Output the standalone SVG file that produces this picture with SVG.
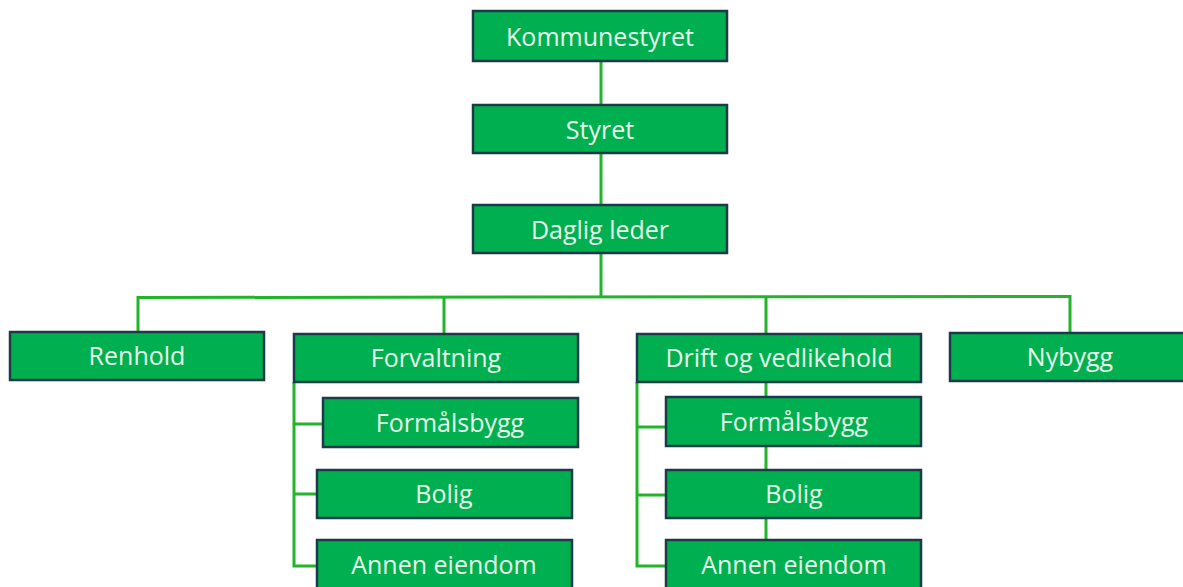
<svg xmlns="http://www.w3.org/2000/svg" width="1183" height="587" viewBox="0 0 1183 587">
<style>
.box{fill:#00B050;stroke:#1C3B46;stroke-width:2.5}
.lbl{font-family:"Open Sans","Liberation Sans",sans-serif;font-size:25px;font-weight:500;fill:#E8F8EA;text-anchor:middle;dominant-baseline:central}
.ln{fill:none;stroke:#22B52A;stroke-width:3}
</style>
<rect width="1183" height="587" fill="#ffffff"/>
<g id="connectors">
<line class="ln" x1="601" y1="62" x2="601" y2="104"/>
<line class="ln" x1="601" y1="154" x2="601" y2="204"/>
<polyline class="ln" points="601,254 601,297"/>
<polyline class="ln" points="138,331 138,297.5 1070,296.5 1070,332"/>
<line class="ln" x1="444" y1="297" x2="444" y2="333"/>
<line class="ln" x1="766" y1="297" x2="766" y2="333"/>
<polyline class="ln" points="294,382 294,566 318,566"/>
<line class="ln" x1="294" y1="424" x2="323" y2="424"/>
<line class="ln" x1="294" y1="494" x2="318" y2="494"/>
<polyline class="ln" points="637,382 637,566 667,566"/>
<line class="ln" x1="637" y1="427" x2="666" y2="427"/>
<line class="ln" x1="637" y1="495" x2="666" y2="495"/>
<line class="ln" x1="766" y1="382" x2="766" y2="397"/>
<line class="ln" x1="766" y1="446" x2="766" y2="470"/>
<line class="ln" x1="766" y1="518" x2="766" y2="540"/>
</g>
<g id="kommunestyret"><rect class="box" x="473" y="11" width="254" height="50"/><text class="lbl" x="600" y="36">Kommunestyret</text></g>
<g id="styret"><rect class="box" x="473" y="105" width="254" height="48"/><text class="lbl" x="600" y="129">Styret</text></g>
<g id="daglig-leder"><rect class="box" x="473" y="205" width="254" height="48"/><text class="lbl" x="600" y="229">Daglig leder</text></g>
<g id="renhold"><rect class="box" x="10" y="332" width="254" height="48"/><text class="lbl" x="137" y="355">Renhold</text></g>
<g id="forvaltning"><rect class="box" x="294" y="334" width="284" height="48"/><text class="lbl" x="436" y="357">Forvaltning</text></g>
<g id="forv-formalsbygg"><rect class="box" x="323" y="398" width="255" height="49"/><text class="lbl" x="450" y="422">Formålsbygg</text></g>
<g id="forv-bolig"><rect class="box" x="317" y="470" width="255" height="48"/><text class="lbl" x="444" y="493">Bolig</text></g>
<g id="forv-annen"><rect class="box" x="317" y="540" width="255" height="60"/><text class="lbl" x="444" y="564">Annen eiendom</text></g>
<g id="drift"><rect class="box" x="637" y="334" width="284" height="48"/><text class="lbl" x="779" y="357">Drift og vedlikehold</text></g>
<g id="drift-formalsbygg"><rect class="box" x="666" y="397" width="255" height="49"/><text class="lbl" x="794" y="421">Formålsbygg</text></g>
<g id="drift-bolig"><rect class="box" x="666" y="470" width="255" height="48"/><text class="lbl" x="794" y="493">Bolig</text></g>
<g id="drift-annen"><rect class="box" x="666" y="540" width="255" height="60"/><text class="lbl" x="794" y="564">Annen eiendom</text></g>
<g id="nybygg"><rect class="box" x="950" y="333" width="245" height="48"/><text class="lbl" x="1070" y="356">Nybygg</text></g>
</svg>
